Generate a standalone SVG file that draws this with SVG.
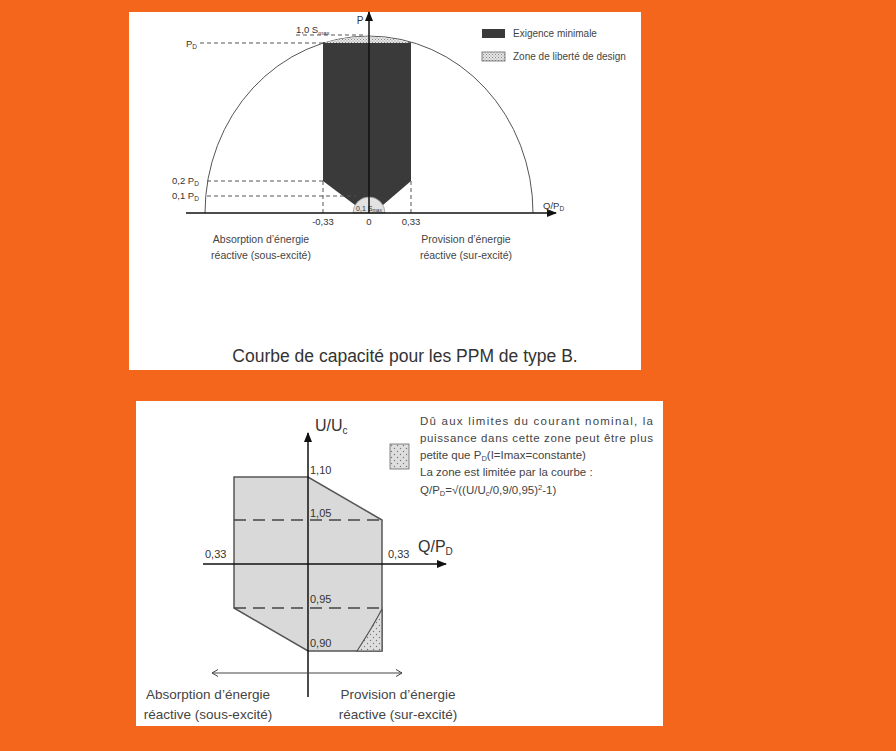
<svg xmlns="http://www.w3.org/2000/svg" width="896" height="751" viewBox="0 0 896 751">
<defs>
<pattern id="hatch" width="3" height="3" patternUnits="userSpaceOnUse">
<rect width="3" height="3" fill="#e6e6e6"/>
<rect width="1" height="1" fill="#888"/>
<rect x="1.5" y="1.5" width="1" height="1" fill="#999"/>
</pattern>
<pattern id="dots" width="6" height="6" patternUnits="userSpaceOnUse">
<rect width="6" height="6" fill="#dedede"/>
<circle cx="1.5" cy="1.5" r="0.7" fill="#777"/>
<circle cx="4.5" cy="4.5" r="0.7" fill="#777"/>
</pattern>
<marker id="arr" markerWidth="10" markerHeight="8" refX="9" refY="4" orient="auto" markerUnits="userSpaceOnUse">
<path d="M0,0 L10,4 L0,8 Z" fill="#111"/>
</marker>
<marker id="open" markerWidth="8" markerHeight="8" refX="7" refY="4" orient="auto-start-reverse" markerUnits="userSpaceOnUse">
<path d="M1,0.5 L7,4 L1,7.5" fill="none" stroke="#444" stroke-width="1"/>
</marker>
</defs>
<style>
.lbl{font-family:"Liberation Sans",Arial,sans-serif;fill:#333}
.cal{font-family:"Liberation Sans",Arial,sans-serif;fill:#444}
.dash{stroke:#555;stroke-width:1;stroke-dasharray:4,3;fill:none}
.dash2{stroke:#444;stroke-width:1.6;stroke-dasharray:12,7;fill:none}
.ax{stroke:#111;stroke-width:1.5;fill:none}
</style>
<rect x="0" y="0" width="896" height="751" fill="#F4661C"/>

<g id="top-chart">
<rect x="129" y="12" width="512" height="358" fill="#ffffff"/>
<path d="M205,213 A164,177 0 0 1 533,213" fill="none" stroke="#555" stroke-width="1"/>
<path d="M323,42 L411,42 L411,181 L383,205 L355,205 L323,181 Z" fill="#3a3a3a"/>
<path d="M323,43 A164,177 0 0 1 411,43 Z" fill="url(#hatch)"/>
<path d="M353,213 A16,16 0 0 1 385,213 Z" fill="#e2e2e2" stroke="#999" stroke-width="0.8"/>
<text class="lbl" x="369" y="211" font-size="7" text-anchor="middle">0,1 S<tspan font-size="5" dy="1">max</tspan></text>
<line class="dash" x1="200" y1="43" x2="323" y2="43"/>
<line class="dash" x1="296" y1="35" x2="365" y2="35"/>
<line class="dash" x1="207" y1="181" x2="323" y2="181"/>
<line class="dash" x1="207" y1="196" x2="356" y2="196"/>
<line class="dash" x1="323" y1="181" x2="323" y2="213"/>
<line class="dash" x1="411" y1="181" x2="411" y2="213"/>
<line class="ax" x1="186" y1="213" x2="556" y2="213" marker-end="url(#arr)"/>
<line class="ax" x1="369" y1="213" x2="369" y2="12" marker-end="url(#arr)"/>
<text class="lbl" x="360" y="24" font-size="10" text-anchor="middle">P</text>
<text class="lbl" x="186" y="47" font-size="9.5">P<tspan font-size="6.5" dy="2">D</tspan></text>
<text class="lbl" x="296" y="33" font-size="9.5">1,0 S<tspan font-size="6" dy="2">max</tspan></text>
<text class="lbl" x="172" y="184" font-size="9.5">0,2 P<tspan font-size="6.5" dy="2">D</tspan></text>
<text class="lbl" x="172" y="199" font-size="9.5">0,1 P<tspan font-size="6.5" dy="2">D</tspan></text>
<text class="lbl" x="323" y="225" font-size="9.5" text-anchor="middle">-0,33</text>
<text class="lbl" x="369" y="225" font-size="9.5" text-anchor="middle">0</text>
<text class="lbl" x="411" y="225" font-size="9.5" text-anchor="middle">0,33</text>
<text class="lbl" x="543" y="209" font-size="9.5">Q/P<tspan font-size="6.5" dy="2">D</tspan></text>
<text class="cal" x="261" y="243" font-size="10.5" text-anchor="middle">Absorption d’énergie</text>
<text class="cal" x="261" y="259" font-size="10.5" text-anchor="middle">réactive (sous-excité)</text>
<text class="cal" x="466" y="243" font-size="10.5" text-anchor="middle">Provision d’énergie</text>
<text class="cal" x="466" y="259" font-size="10.5" text-anchor="middle">réactive (sur-excité)</text>
<rect x="482" y="29" width="23" height="9" fill="#3a3a3a"/>
<text class="cal" x="513" y="37" font-size="10">Exigence minimale</text>
<rect x="482" y="52" width="23" height="9" fill="url(#hatch)" stroke="#666" stroke-width="0.8"/>
<text class="cal" x="513" y="60" font-size="10">Zone de liberté de design</text>
<text class="lbl" x="405" y="362" font-size="17.5" text-anchor="middle" fill="#111">Courbe de capacité pour les PPM de type B.</text>
</g>

<g id="bottom-chart">
<rect x="136" y="401" width="527" height="325" fill="#ffffff"/>
<path d="M234,477 L308,477 L382,520 L382,651 L308,651 L234,608 Z" fill="#d9d9d9" stroke="#555" stroke-width="1.5"/>
<path d="M382,609 Q372,628 357,651 L382,651 Z" fill="url(#dots)" stroke="#555" stroke-width="1.2"/>
<line class="dash2" x1="234" y1="520" x2="382" y2="520"/>
<line class="dash2" x1="234" y1="608" x2="382" y2="608"/>
<line class="ax" x1="203" y1="564" x2="446" y2="564" marker-end="url(#arr)"/>
<line class="ax" x1="308" y1="697" x2="308" y2="433" marker-end="url(#arr)"/>
<line x1="212" y1="673" x2="402" y2="673" stroke="#444" stroke-width="1" marker-start="url(#open)" marker-end="url(#open)"/>
<text class="lbl" x="315" y="431" font-size="16">U/U<tspan font-size="10" dy="3">c</tspan></text>
<text class="lbl" x="418" y="552" font-size="16">Q/P<tspan font-size="10" dy="3">D</tspan></text>
<text class="lbl" x="310" y="474" font-size="11">1,10</text>
<text class="lbl" x="310" y="517" font-size="11">1,05</text>
<text class="lbl" x="310" y="603" font-size="11">0,95</text>
<text class="lbl" x="310" y="647" font-size="11">0,90</text>
<text class="lbl" x="205" y="558" font-size="11">0,33</text>
<text class="lbl" x="388" y="558" font-size="11">0,33</text>
<text class="cal" x="208" y="699" font-size="13.5" text-anchor="middle">Absorption d’énergie</text>
<text class="cal" x="208" y="719" font-size="13.5" text-anchor="middle">réactive (sous-excité)</text>
<text class="cal" x="398" y="699" font-size="13.5" text-anchor="middle">Provision d’énergie</text>
<text class="cal" x="398" y="719" font-size="13.5" text-anchor="middle">réactive (sur-excité)</text>
<rect x="390" y="444" width="19" height="25" fill="url(#dots)" stroke="#666" stroke-width="0.8"/>
<text class="cal" font-size="11.5">
<tspan x="420" y="425" textLength="233" lengthAdjust="spacing">Dû aux limites du courant nominal, la</tspan>
<tspan x="420" y="442" textLength="233" lengthAdjust="spacing">puissance dans cette zone peut être plus</tspan>
<tspan x="420" y="459">petite que P<tspan font-size="7.5" dy="2">D</tspan><tspan dy="-2">(I=Imax=constante)</tspan></tspan>
<tspan x="420" y="476">La zone est limitée par la courbe :</tspan>
<tspan x="420" y="494">Q/P<tspan font-size="7.5" dy="2">D</tspan><tspan dy="-2">=√((U/U</tspan><tspan font-size="7.5" dy="2">c</tspan><tspan dy="-2">/0,9/0,95)</tspan><tspan font-size="7.5" dy="-4">2</tspan><tspan dy="4">-1)</tspan></tspan>
</text>
</g>
</svg>
